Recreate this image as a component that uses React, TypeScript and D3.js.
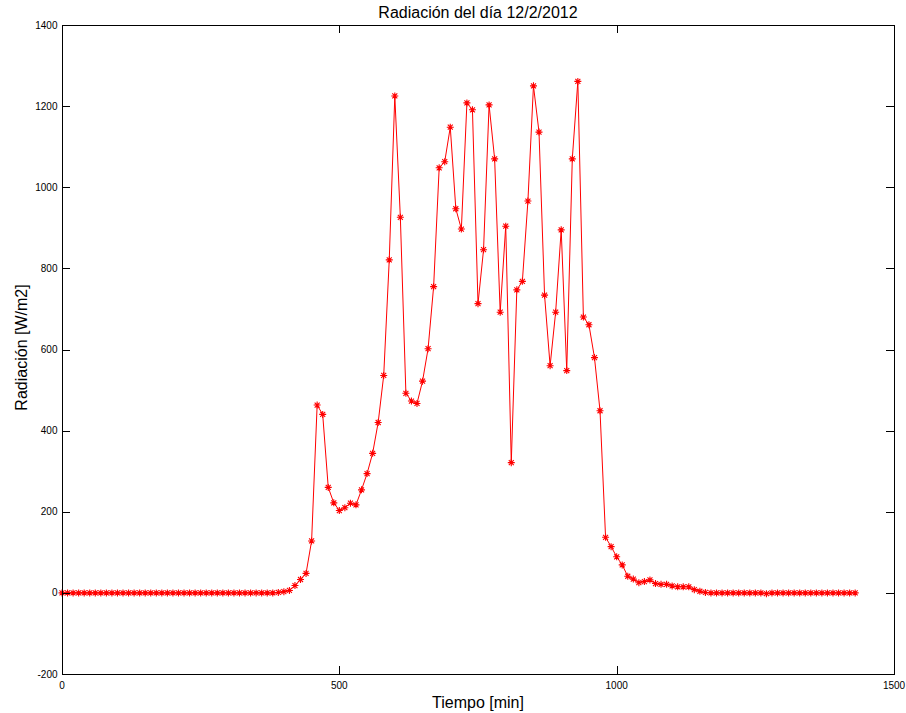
import React from "react";
import * as d3 from "d3";

const times = [
  0, 10, 20, 30, 40, 50, 60, 70, 80, 90, 100, 110, 120, 130, 140, 150, 160, 170, 180, 190,
  200, 210, 220, 230, 240, 250, 260, 270, 280, 290, 300, 310, 320, 330, 340, 350, 360, 370, 380, 390,
  400, 410, 420, 430, 440, 450, 460, 470, 480, 490, 500, 510, 520, 530, 540, 550, 560, 570, 580, 590,
  600, 610, 620, 630, 640, 650, 660, 670, 680, 690, 700, 710, 720, 730, 740, 750, 760, 770, 780, 790,
  800, 810, 820, 830, 840, 850, 860, 870, 880, 890, 900, 910, 920, 930, 940, 950, 960, 970, 980, 990,
  1000, 1010, 1020, 1030, 1040, 1050, 1060, 1070, 1080, 1090, 1100, 1110, 1120, 1130, 1140, 1150, 1160, 1170, 1180, 1190,
  1200, 1210, 1220, 1230, 1240, 1250, 1260, 1270, 1280, 1290, 1300, 1310, 1320, 1330, 1340, 1350, 1360, 1370, 1380, 1390,
  1400, 1410, 1420, 1430,
];

const radiation = [
  0, 0, 0, 0, 0, 0, 0, 0, 0, 0, 0, 0, 0, 0, 0, 0, 0, 0, 0, 0,
  0, 0, 0, 0, 0, 0, 0, 0, 0, 0, 0, 0, 0, 0, 0, 0, 0, 0, 0, 1,
  3, 6, 18, 33, 48, 128, 463, 440, 260, 222, 203, 210, 221, 217, 254, 294, 344, 420, 536, 821,
  1225, 926, 492, 473, 467, 522, 602, 755, 1048, 1063, 1148, 947, 897, 1208, 1191, 713, 846, 1203, 1070, 692,
  904, 321, 747, 768, 966, 1250, 1136, 734, 560, 692, 895, 548, 1070, 1261, 680, 661, 580, 449, 137, 114,
  89, 69, 41, 34, 25, 28, 32, 23, 21, 21, 17, 15, 15, 15, 8, 4, 1, 0, 0, 0,
  0, 0, 0, 0, 0, 0, 0, -2, 0, 0, 0, 0, 0, 0, 0, 0, 0, 0, 0, 0,
  0, 0, 0, 0,
];

const xTicks = [0, 500, 1000, 1500];
const yTicks = [-200, 0, 200, 400, 600, 800, 1000, 1200, 1400];

const title = "Radiación del día 12/2/2012";
const xLabel = "Tiempo [min]";
const yLabel = "Radiación [W/m2]";

export default function App() {
  const W = 906, H = 713;
  const left = 62, right = 894, top = 25, bottom = 674;
  const x = d3.scaleLinear().domain([0, 1500]).range([left, right]);
  const y = d3.scaleLinear().domain([-200, 1400]).range([bottom, top]);
  const pts = times.map((t, i) => [t, radiation[i]] as [number, number]);
  const line = d3.line<[number, number]>().x(d => x(d[0])).y(d => y(d[1]))(pts) || "";
  const tl = 8;
  const font = "'Liberation Sans', Arial, sans-serif";
  const m = 3.5, md = 2.5;

  return (
    <svg width={W} height={H} style={{ position: "absolute", left: 0, top: 0, background: "#fff" }} fontFamily={font}>
      <rect x={0} y={0} width={W} height={H} fill="#fff" />
      <path d={line} fill="none" stroke="#ff0000" strokeWidth={1} />
      {pts.map((d, i) => {
        const cx = x(d[0]), cy = y(d[1]);
        return (
          <path key={i}
            d={`M${cx - m},${cy}H${cx + m}M${cx},${cy - m}V${cy + m}M${cx - md},${cy - md}L${cx + md},${cy + md}M${cx - md},${cy + md}L${cx + md},${cy - md}`}
            stroke="#ff0000" strokeWidth={1.1} fill="none" />
        );
      })}
      <rect x={left + 0.5} y={top + 0.5} width={right - left} height={bottom - top} fill="none" stroke="#000" strokeWidth={1} />
      {xTicks.map(t => (
        <g key={"x" + t}>
          <line x1={Math.round(x(t)) + 0.5} x2={Math.round(x(t)) + 0.5} y1={bottom} y2={bottom - tl} stroke="#000" />
          <line x1={Math.round(x(t)) + 0.5} x2={Math.round(x(t)) + 0.5} y1={top} y2={top + tl} stroke="#000" />
          <text x={x(t)} y={689} fontSize={10} textAnchor="middle" fill="#000">{t}</text>
        </g>
      ))}
      {yTicks.map(t => (
        <g key={"y" + t}>
          <line x1={left} x2={left + tl} y1={Math.round(y(t)) + 0.5} y2={Math.round(y(t)) + 0.5} stroke="#000" />
          <line x1={right} x2={right - tl} y1={Math.round(y(t)) + 0.5} y2={Math.round(y(t)) + 0.5} stroke="#000" />
          <text x={57.5} y={y(t) + 3.5} fontSize={10} textAnchor="end" fill="#000">{t}</text>
        </g>
      ))}
      <text x={(left + right) / 2} y={18} fontSize={16} textAnchor="middle" fill="#000">{title}</text>
      <text x={(left + right) / 2} y={708} fontSize={16} textAnchor="middle" fill="#000">{xLabel}</text>
      <text transform={`translate(27,${(top + bottom) / 2 - 2}) rotate(-90)`} fontSize={16} textAnchor="middle" fill="#000">{yLabel}</text>
    </svg>
  );
}
